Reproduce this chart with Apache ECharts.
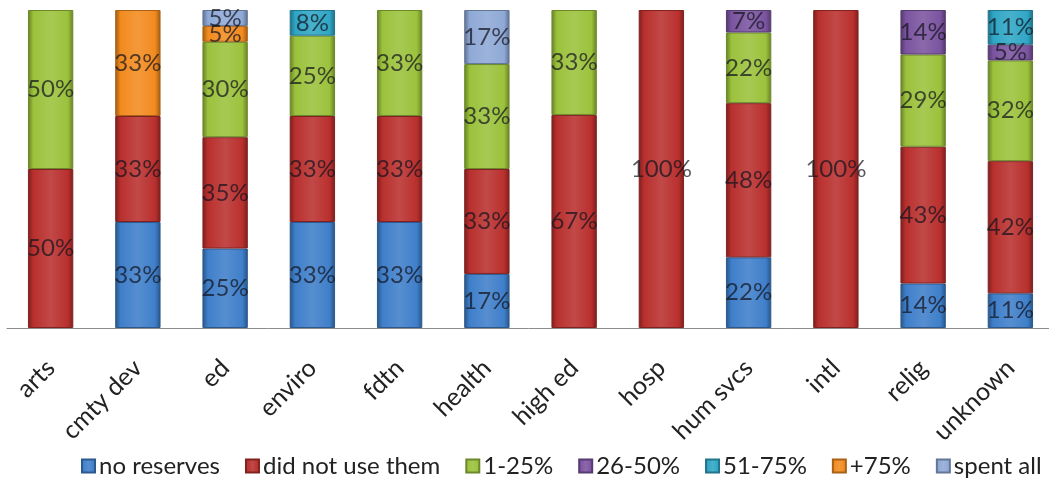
<!DOCTYPE html>
<html>
<head>
<meta charset="utf-8">
<script src="https://cdn.jsdelivr.net/npm/echarts@6/dist/echarts.min.js"></script>
<style>
html,body{margin:0;padding:0;background:#fff;}
#c{width:1049px;height:484px;}
</style>
</head>
<body>
<div id="c"></div>
<script>
const categories = ['arts','cmty dev','ed','enviro','fdtn','health','high ed','hosp','hum svcs','intl','relig','unknown'];
const seriesNames = ['no reserves','did not use them','1-25%','26-50%','51-75%','+75%','spent all'];
const noReserves   = [0, 33, 25, 33, 33, 17, 0, 0, 22, 0, 14, 11];
const didNotUse    = [50, 33, 35, 33, 33, 33, 67, 100, 48, 100, 43, 42];
const pct1to25     = [50, 0, 30, 25, 33, 33, 33, 0, 22, 0, 29, 32];
const pct26to50    = [0, 0, 0, 0, 0, 0, 0, 0, 7, 0, 14, 5];
const pct51to75    = [0, 0, 0, 8, 0, 0, 0, 0, 0, 0, 0, 11];
const pctOver75    = [0, 33, 5, 0, 0, 0, 0, 0, 0, 0, 0, 0];
const spentAll     = [0, 0, 5, 0, 0, 17, 0, 0, 0, 0, 0, 0];
const seriesValues = [noReserves, didNotUse, pct1to25, pct26to50, pct51to75, pctOver75, spentAll];
const colors = ['#3f7fca','#b9302e','#9bc23c','#7b54a0','#2fa6c5','#f28b1f','#8fa9d6'];

function shade(hex, f){
  const n=parseInt(hex.slice(1),16);
  let r=(n>>16)&255,g=(n>>8)&255,b=n&255;
  if(f<0){r=r*(1+f);g=g*(1+f);b=b*(1+f);}
  else{r=r+(255-r)*f;g=g+(255-g)*f;b=b+(255-b)*f;}
  return 'rgb('+Math.round(r)+','+Math.round(g)+','+Math.round(b)+')';
}
function grad(c){
  return new echarts.graphic.LinearGradient(0,0,1,0,[
    {offset:0,color:shade(c,-0.35)},
    {offset:0.12,color:c},
    {offset:0.5,color:shade(c,0.12)},
    {offset:0.88,color:c},
    {offset:1,color:shade(c,-0.35)}
  ]);
}
const totals = categories.map((_,i)=>seriesValues.reduce((s,a)=>s+a[i],0));
const font = 'Lato';
const series = seriesNames.map((name,k)=>({
  name, type:'bar', stack:'all', barWidth:'52%',
  itemStyle:{color:grad(colors[k]), borderColor:shade(colors[k],-0.3), borderWidth:1},
  label:{show:true, position:'inside', fontFamily:font, fontSize:24, color:'rgba(20,20,30,0.72)',
    formatter:p=>seriesValues[k][p.dataIndex]+'%'},
  data: seriesValues[k].map((v,i)=>v>0 ? v/totals[i]*100 : null)
}));
const chart = echarts.init(document.getElementById('c'));
chart.setOption({
  animation:false,
  color:colors,
  grid:{left:7, width:1047, top:10, bottom:156, outerBoundsMode:'none', containLabel:false},
  legend:{
    data:seriesNames.map((n,k)=>({name:n, icon:'rect', itemStyle:{color:grad(colors[k])}})),
    left:76, bottom:1, itemWidth:13, itemHeight:13, itemGap:25,
    textStyle:{fontFamily:font, fontSize:24, color:'#222', padding:[0,0,0,-1]}
  },
  xAxis:{type:'category', data:categories,
    axisLine:{lineStyle:{color:'#8c8c8c'}}, axisTick:{show:false},
    axisLabel:{rotate:45, margin:36, fontFamily:font, fontSize:25, color:'#222', interval:0}},
  yAxis:{type:'value', min:0, max:100, show:false, splitLine:{show:false}},
  series
});
</script>
</body>
</html>
